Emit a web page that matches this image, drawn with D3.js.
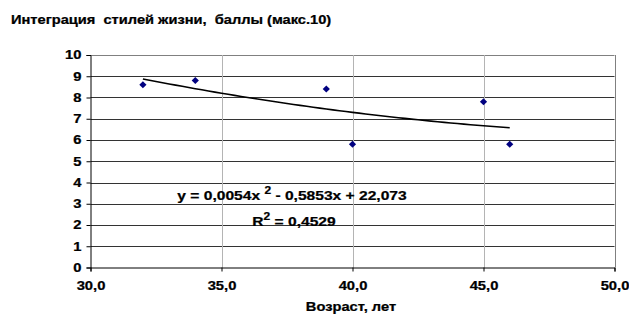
<!DOCTYPE html>
<html>
<head>
<meta charset="utf-8">
<script src="https://cdn.jsdelivr.net/npm/d3@7"></script>
<style>
  body { margin: 0; background: #fff; }
  text { font-family: "Liberation Sans", Arial, sans-serif; font-weight: bold; fill: #000; white-space: pre;
         stroke: #000; stroke-width: 0.25px; }
</style>
</head>
<body>
<svg class="chart-svg"></svg>
<script>
const ages = [32, 34, 39, 40, 45, 46];
const scores = [8.6, 8.8, 8.4, 5.8, 7.8, 5.8];
const xTicks = [30, 35, 40, 45, 50];
const yTicks = [0, 1, 2, 3, 4, 5, 6, 7, 8, 9, 10];
// polynomial trend coefficients shown on the chart
const trendCoef = [22.073, -0.5853, 0.0054];

const width = 629;
const height = 317;
const margin = { top: 55, right: 14.5, bottom: 49.5, left: 90.5 };
const stretch = 1.2;

const svg = d3.select(".chart-svg").attr("width", width).attr("height", height);

const xScale = d3.scaleLinear().domain([30, 50]).range([margin.left, width - margin.right]);
const yScale = d3.scaleLinear().domain([0, 10]).range([height - margin.bottom, margin.top]);

// widen glyphs around their anchor, like the original rendering
function widen(sel) {
  sel.attr("transform", function () {
    const x = +this.getAttribute("x") || 0;
    return `translate(${x},0) scale(${stretch},1) translate(${-x},0)`;
  });
}

// horizontal grid
svg.append("g")
  .selectAll("line")
  .data(yTicks.slice(1))
  .enter()
  .append("line")
  .attr("x1", xScale(30))
  .attr("x2", xScale(50))
  .attr("y1", (d) => Math.round(yScale(d)) + 0.5)
  .attr("y2", (d) => Math.round(yScale(d)) + 0.5)
  .attr("stroke", (d) => (d === 10 ? "#808080" : "#333"))
  .attr("stroke-width", 1);

// vertical grid
svg.append("g")
  .selectAll("line")
  .data(xTicks.slice(1))
  .enter()
  .append("line")
  .attr("x1", (d) => Math.round(xScale(d)) + 0.5)
  .attr("x2", (d) => Math.round(xScale(d)) + 0.5)
  .attr("y1", yScale(10))
  .attr("y2", yScale(0))
  .attr("stroke", (d) => (d === 50 ? "#808080" : "#b4b4b4"))
  .attr("stroke-width", 1);

// axes
const yAxis = svg.append("g")
  .attr("transform", `translate(${margin.left},0)`)
  .call(d3.axisLeft(yScale).tickValues(yTicks).tickSize(4).tickPadding(5).tickFormat(d3.format("d")));
yAxis.selectAll("text").style("font-size", "12.3px").call(widen);
yAxis.selectAll("path, line").attr("stroke", "#000");

const xAxis = svg.append("g")
  .attr("transform", `translate(0,${yScale(0)})`)
  .call(d3.axisBottom(xScale).tickValues(xTicks).tickSize(4).tickPadding(10)
    .tickFormat((d) => d3.format(".1f")(d).replace(".", ",")));
xAxis.selectAll("text").style("font-size", "12.3px").call(widen);
xAxis.selectAll("path, line").attr("stroke", "#000");

// trend line
const trendX = d3.range(32, 46.01, 0.25);
const trend = (x) => trendCoef[0] + trendCoef[1] * x + trendCoef[2] * x * x;
svg.append("path")
  .datum(trendX)
  .attr("fill", "none")
  .attr("stroke", "#000")
  .attr("stroke-width", 1.6)
  .attr("d", d3.line().x((d) => xScale(d)).y((d) => yScale(trend(d))));

// points
svg.append("g")
  .selectAll("path")
  .data(ages)
  .enter()
  .append("path")
  .attr("d", d3.symbol().type(d3.symbolSquare).size(26))
  .attr("fill", "#000080")
  .attr("transform", (d, i) => `translate(${xScale(d)},${yScale(scores[i])}) rotate(45)`);

// title
svg.append("text")
  .attr("x", 11)
  .attr("y", 24)
  .attr("xml:space", "preserve")
  .style("font-size", "12.2px")
  .text("Интеграция  стилей жизни,  баллы (макс.10)")
  .call(widen);

// equation
const eq = svg.append("text")
  .attr("x", 292)
  .attr("y", 200)
  .attr("text-anchor", "middle")
  .attr("xml:space", "preserve")
  .style("font-size", "13px");
eq.append("tspan").text("y = 0,0054x ");
eq.append("tspan").attr("dy", -6).style("font-size", "10px").text("2");
eq.append("tspan").attr("dy", 6).text(" - 0,5853x + 22,073");
eq.call(widen);

const r2 = svg.append("text")
  .attr("x", 294)
  .attr("y", 226.5)
  .attr("text-anchor", "middle")
  .attr("xml:space", "preserve")
  .style("font-size", "13px");
r2.append("tspan").text("R");
r2.append("tspan").attr("dy", -6).style("font-size", "10px").text("2");
r2.append("tspan").attr("dy", 6).text(" = 0,4529");
r2.call(widen);

// x axis title
svg.append("text")
  .attr("x", 351)
  .attr("y", 311)
  .attr("text-anchor", "middle")
  .style("font-size", "12.2px")
  .text("Возраст, лет")
  .call(widen);
</script>
</body>
</html>
